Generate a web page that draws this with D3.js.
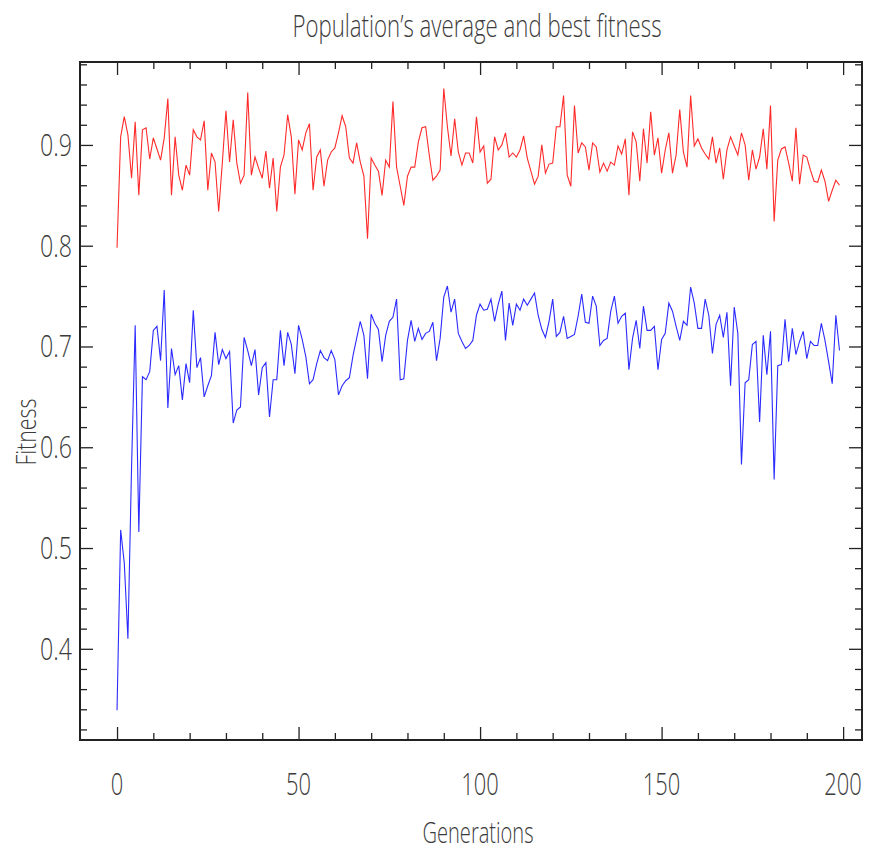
<!DOCTYPE html>
<html>
<head>
<meta charset="utf-8">
<script src="https://cdn.jsdelivr.net/npm/d3@7"></script>
<style>
  html, body { margin: 0; padding: 0; background: #fff; }
  svg text { font-family: "Open Sans", "DejaVu Sans Condensed", sans-serif; font-weight: 300; fill: #3c3c3c; }
  .axis path, .axis line { stroke: #222; }
  .axis text { display: none; }
</style>
</head>
<body>
<svg id="chart" width="875" height="857"></svg>
<script>
// best fitness per generation (0..199)
const bestFitness = [
  0.798, 0.908, 0.928, 0.910, 0.867, 0.923, 0.850, 0.915, 0.917, 0.886,
  0.907, 0.896, 0.885, 0.907, 0.946, 0.850, 0.908, 0.870, 0.855, 0.880,
  0.870, 0.915, 0.908, 0.905, 0.924, 0.855, 0.892, 0.883, 0.834, 0.882,
  0.934, 0.883, 0.925, 0.882, 0.862, 0.870, 0.952, 0.870, 0.888, 0.877,
  0.867, 0.894, 0.857, 0.887, 0.834, 0.878, 0.890, 0.930, 0.908, 0.851,
  0.905, 0.895, 0.912, 0.921, 0.855, 0.888, 0.895, 0.859, 0.885, 0.893,
  0.897, 0.912, 0.929, 0.918, 0.887, 0.882, 0.902, 0.883, 0.869, 0.807,
  0.887, 0.880, 0.874, 0.850, 0.885, 0.878, 0.943, 0.878, 0.859, 0.840,
  0.869, 0.878, 0.878, 0.903, 0.917, 0.918, 0.890, 0.865, 0.869, 0.875,
  0.956, 0.918, 0.889, 0.926, 0.893, 0.880, 0.892, 0.892, 0.882, 0.928,
  0.893, 0.899, 0.862, 0.866, 0.908, 0.895, 0.900, 0.912, 0.888, 0.892,
  0.888, 0.895, 0.909, 0.887, 0.874, 0.861, 0.869, 0.900, 0.872, 0.881,
  0.882, 0.918, 0.918, 0.949, 0.870, 0.859, 0.939, 0.892, 0.902, 0.898,
  0.875, 0.902, 0.898, 0.873, 0.882, 0.874, 0.883, 0.880, 0.899, 0.891,
  0.906, 0.850, 0.913, 0.903, 0.864, 0.916, 0.882, 0.933, 0.890, 0.907,
  0.872, 0.895, 0.912, 0.872, 0.890, 0.935, 0.893, 0.878, 0.949, 0.899,
  0.906, 0.897, 0.891, 0.886, 0.908, 0.882, 0.897, 0.866, 0.895, 0.908,
  0.899, 0.890, 0.912, 0.900, 0.865, 0.895, 0.876, 0.888, 0.916, 0.876,
  0.939, 0.824, 0.885, 0.896, 0.898, 0.882, 0.864, 0.917, 0.861, 0.890,
  0.888, 0.875, 0.864, 0.863, 0.875, 0.864, 0.844, 0.855, 0.865, 0.860
];

// population average fitness per generation (0..199)
const avgFitness = [
  0.339, 0.518, 0.485, 0.410, 0.580, 0.721, 0.516, 0.670, 0.667, 0.675,
  0.716, 0.720, 0.686, 0.756, 0.639, 0.698, 0.672, 0.681, 0.647, 0.683,
  0.664, 0.736, 0.679, 0.689, 0.650, 0.661, 0.671, 0.714, 0.682, 0.697,
  0.688, 0.695, 0.624, 0.637, 0.640, 0.709, 0.696, 0.681, 0.697, 0.652,
  0.679, 0.684, 0.630, 0.667, 0.667, 0.716, 0.681, 0.714, 0.702, 0.673,
  0.721, 0.707, 0.690, 0.663, 0.667, 0.683, 0.696, 0.689, 0.686, 0.696,
  0.687, 0.652, 0.661, 0.666, 0.669, 0.691, 0.708, 0.725, 0.711, 0.668,
  0.732, 0.723, 0.717, 0.685, 0.711, 0.725, 0.729, 0.747, 0.667, 0.668,
  0.706, 0.726, 0.705, 0.718, 0.707, 0.713, 0.715, 0.724, 0.686, 0.708,
  0.749, 0.760, 0.734, 0.747, 0.713, 0.705, 0.698, 0.701, 0.706, 0.731,
  0.742, 0.736, 0.737, 0.747, 0.725, 0.742, 0.755, 0.706, 0.743, 0.721,
  0.742, 0.736, 0.747, 0.741, 0.747, 0.753, 0.731, 0.717, 0.709, 0.725,
  0.747, 0.710, 0.714, 0.730, 0.708, 0.710, 0.712, 0.730, 0.752, 0.724,
  0.723, 0.750, 0.740, 0.701, 0.706, 0.708, 0.735, 0.750, 0.723, 0.730,
  0.733, 0.677, 0.708, 0.726, 0.698, 0.740, 0.716, 0.716, 0.720, 0.677,
  0.707, 0.713, 0.743, 0.735, 0.720, 0.706, 0.725, 0.721, 0.759, 0.743,
  0.718, 0.718, 0.747, 0.731, 0.693, 0.722, 0.731, 0.709, 0.734, 0.661,
  0.739, 0.713, 0.583, 0.664, 0.667, 0.702, 0.705, 0.625, 0.711, 0.672,
  0.715, 0.568, 0.681, 0.682, 0.727, 0.685, 0.718, 0.692, 0.705, 0.715,
  0.688, 0.705, 0.701, 0.701, 0.723, 0.706, 0.685, 0.663, 0.731, 0.696
];

const xMajorTicks = [0, 50, 100, 150, 200];
const xMinorTicks = [10, 20, 30, 40, 60, 70, 80, 90, 110, 120, 130, 140, 160, 170, 180, 190];
const yMajorTicks = [0.4, 0.5, 0.6, 0.7, 0.8, 0.9];
const yMinorTicks = [0.32, 0.34, 0.36, 0.38, 0.42, 0.44, 0.46, 0.48, 0.52, 0.54, 0.56, 0.58,
  0.62, 0.64, 0.66, 0.68, 0.72, 0.74, 0.76, 0.78, 0.82, 0.84, 0.86, 0.88, 0.92, 0.94, 0.96, 0.98];

const plot = { left: 80, right: 862, top: 62, bottom: 740 };

const svg = d3.select("#chart");

const x = d3.scaleLinear().domain([-10.2, 205.2]).range([plot.left, plot.right]);
const y = d3.scaleLinear().domain([0.3095, 0.9823]).range([plot.bottom, plot.top]);

const majorLen = 13;
const minorLen = 7;

function drawTicks(axisFn, scale, values, len, transform) {
  svg.append("g")
    .attr("class", "axis")
    .attr("transform", transform)
    .call(axisFn(scale).tickValues(values).tickSize(len).tickSizeOuter(0).tickFormat(""))
    .call((g) => g.select(".domain").remove())
    .selectAll("line").attr("stroke-width", 1.3);
}

// ticks point inward on all four sides
drawTicks(d3.axisTop, x, xMajorTicks, majorLen, `translate(0,${plot.bottom})`);
drawTicks(d3.axisTop, x, xMinorTicks, minorLen, `translate(0,${plot.bottom})`);
drawTicks(d3.axisBottom, x, xMajorTicks, majorLen, `translate(0,${plot.top})`);
drawTicks(d3.axisBottom, x, xMinorTicks, minorLen, `translate(0,${plot.top})`);
drawTicks(d3.axisRight, y, yMajorTicks, majorLen, `translate(${plot.left},0)`);
drawTicks(d3.axisRight, y, yMinorTicks, minorLen, `translate(${plot.left},0)`);
drawTicks(d3.axisLeft, y, yMajorTicks, majorLen, `translate(${plot.right},0)`);
drawTicks(d3.axisLeft, y, yMinorTicks, minorLen, `translate(${plot.right},0)`);

svg.append("rect")
  .attr("x", plot.left)
  .attr("y", plot.top)
  .attr("width", plot.right - plot.left)
  .attr("height", plot.bottom - plot.top)
  .attr("fill", "none")
  .attr("stroke", "#222")
  .attr("stroke-width", 2);

// tick labels, squeezed to the narrow widths of the original
svg.append("g")
  .selectAll("text")
  .data(xMajorTicks)
  .join("text")
  .attr("x", (d) => x(d))
  .attr("y", 795)
  .attr("text-anchor", "middle")
  .attr("font-size", 32)
  .attr("textLength", (d) => String(d).length * 12.5)
  .attr("lengthAdjust", "spacingAndGlyphs")
  .text((d) => d);

svg.append("g")
  .selectAll("text")
  .data(yMajorTicks)
  .join("text")
  .attr("x", 72)
  .attr("y", (d) => y(d) + 11)
  .attr("text-anchor", "end")
  .attr("font-size", 32)
  .attr("textLength", 32)
  .attr("lengthAdjust", "spacingAndGlyphs")
  .text((d) => d3.format(".1f")(d));

// lines
const line = (values) => d3.line()
  .x((d, i) => x(i))
  .y((d) => y(d))(values);

svg.append("path")
  .attr("d", line(bestFitness))
  .attr("fill", "none")
  .attr("stroke", "#ff2b2b")
  .attr("stroke-width", 1.1);

svg.append("path")
  .attr("d", line(avgFitness))
  .attr("fill", "none")
  .attr("stroke", "#2b2bff")
  .attr("stroke-width", 1.1);

// titles
svg.append("text")
  .attr("x", 477)
  .attr("y", 37)
  .attr("text-anchor", "middle")
  .attr("font-size", 32)
  .attr("textLength", 369)
  .attr("lengthAdjust", "spacingAndGlyphs")
  .text("Population\u2019s average and best fitness");

svg.append("text")
  .attr("x", 478)
  .attr("y", 843)
  .attr("text-anchor", "middle")
  .attr("font-size", 30)
  .attr("textLength", 111)
  .attr("lengthAdjust", "spacingAndGlyphs")
  .text("Generations");

svg.append("text")
  .attr("transform", "translate(36,432) rotate(-90)")
  .attr("text-anchor", "middle")
  .attr("font-size", 28)
  .attr("textLength", 67)
  .attr("lengthAdjust", "spacingAndGlyphs")
  .text("Fitness");
</script>
</body>
</html>
